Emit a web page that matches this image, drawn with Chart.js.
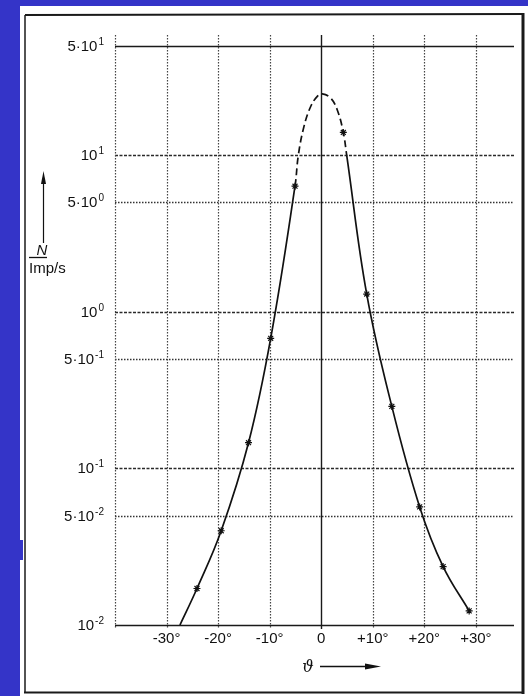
<!DOCTYPE html>
<html>
<head>
<meta charset="utf-8">
<script src="https://cdn.jsdelivr.net/npm/chart.js@4.4.1/dist/chart.umd.min.js"></script>
<style>
  html, body { margin: 0; padding: 0; background: #3434c8; }
  canvas { display: block; }
</style>
</head>
<body>
<canvas id="chart" width="528" height="696"></canvas>
<script>
// ---- data ----
const angleTicks = [-30, -20, -10, 0, 10, 20, 30];
const angleTickLabels = ['-30°', '-20°', '-10°', '0', '+10°', '+20°', '+30°'];
const gridAngles = [-40, -30, -20, -10, 0, 10, 20, 30];

const rateTicks = [0.01, 0.05, 0.1, 0.5, 1, 5, 10, 50];
const rateTickMantissa = ['', '5·', '', '5·', '', '5·', '', '5·'];
const rateTickExponent = ['-2', '-2', '-1', '-1', '0', '0', '1', '1'];

// solid left flank
const leftAngles = [-27.4, -24.1, -19.4, -14.1, -9.8];
const leftRates = [0.01, 0.0171, 0.040, 0.146, 0.678];
// dashed (extrapolated) peak
const peakAngles = [-5.08, -4.44, -3.34, -2.04, -0.76, 0.2, 1.84, 3.12, 4.29, 4.95];
const peakRates = [6.35, 10, 15.3, 20.5, 23.8, 24.7, 23.2, 19.5, 14, 10];
// solid right flank
const rightAngles = [8.83, 13.7, 19.1, 23.65, 28.7];
const rightRates = [1.30, 0.249, 0.0568, 0.0236, 0.0123];
// measured points
const markerAngles = [-24.1, -19.4, -14.1, -9.8, -5.08, 4.29, 8.83, 13.7, 19.1, 23.65, 28.7];
const markerRates = [0.0171, 0.040, 0.146, 0.678, 6.35, 14, 1.30, 0.249, 0.0568, 0.0236, 0.0123];

const pts = (xs, ys) => xs.map((x, i) => ({ x, y: ys[i] }));
const curvePts = [...pts(leftAngles, leftRates), ...pts(peakAngles, peakRates), ...pts(rightAngles, rightRates)];
const FONT = '"Liberation Sans", Arial, sans-serif';

// paper, frame, grid
const paperPlugin = {
    id: 'paper',
    beforeDraw(chart) {
        const ctx = chart.ctx;
        ctx.save();
        ctx.fillStyle = '#3434c8';
        ctx.fillRect(0, 0, 528, 696);
        ctx.fillStyle = '#ffffff';
        ctx.fillRect(20, 6, 508, 690);
        ctx.fillStyle = '#3434c8';
        ctx.fillRect(20, 540, 3, 20);
        ctx.strokeStyle = '#1a1a1a';
        ctx.lineWidth = 2;
        ctx.beginPath();
        ctx.moveTo(25, 15); ctx.lineTo(523, 14);
        ctx.moveTo(24, 692.5); ctx.lineTo(523, 692.5);
        ctx.stroke();
        ctx.lineWidth = 3;
        ctx.beginPath(); ctx.moveTo(523, 13); ctx.lineTo(523, 694); ctx.stroke();
        ctx.lineWidth = 1.5;
        ctx.beginPath(); ctx.moveTo(25, 15); ctx.lineTo(25, 692); ctx.stroke();
        ctx.restore();
    },
    beforeDatasetsDraw(chart) {
        const { ctx, chartArea, scales: { x, y } } = chart;
        ctx.save();
        // horizontal lines
        rateTicks.forEach((v, i) => {
            const py = Math.round(y.getPixelForValue(v)) + 0.5;
            if (v === 50 || v === 0.01) { ctx.setLineDash([]); ctx.lineWidth = 1.6; ctx.strokeStyle = '#1a1a1a'; }
            else if (rateTickMantissa[i] === '') { ctx.setLineDash([3, 1.5]); ctx.lineWidth = 1.3; ctx.strokeStyle = '#2a2a2a'; }
            else { ctx.setLineDash([1.5, 1.5]); ctx.lineWidth = 1.3; ctx.strokeStyle = '#333'; }
            ctx.beginPath();
            ctx.moveTo(chartArea.left, py);
            ctx.lineTo(chartArea.right, py);
            ctx.stroke();
        });
        // vertical lines
        gridAngles.forEach(a => {
            const px = Math.round(x.getPixelForValue(a)) + 0.5;
            if (a === 0) { ctx.setLineDash([]); ctx.lineWidth = 1.4; ctx.strokeStyle = '#1a1a1a'; }
            else { ctx.setLineDash([1.5, 1.5]); ctx.lineWidth = 1.2; ctx.strokeStyle = '#444'; }
            ctx.beginPath();
            ctx.moveTo(px, chartArea.top);
            ctx.lineTo(px, chartArea.bottom + 4);
            ctx.stroke();
        });
        ctx.restore();
    },
    afterDraw(chart) {
        const { ctx, scales: { y } } = chart;
        ctx.save();
        ctx.fillStyle = '#111';
        // y tick labels with raised exponents
        rateTicks.forEach((v, i) => {
            const py = y.getPixelForValue(v);
            ctx.font = '10px ' + FONT;
            ctx.textAlign = 'right';
            ctx.textBaseline = 'alphabetic';
            const expW = ctx.measureText(rateTickExponent[i]).width;
            ctx.fillText(rateTickExponent[i], 104, py - 1);
            ctx.font = '15px ' + FONT;
            ctx.fillText(rateTickMantissa[i] + '10', 104 - expW - 1, py + 5);
        });
        // y axis title
        ctx.strokeStyle = '#111';
        ctx.lineWidth = 1.2;
        ctx.beginPath(); ctx.moveTo(43.5, 180); ctx.lineTo(43.5, 243); ctx.stroke();
        ctx.beginPath(); ctx.moveTo(43.5, 171); ctx.lineTo(46, 184); ctx.lineTo(41, 184); ctx.closePath(); ctx.fill();
        ctx.font = 'italic 15px ' + FONT;
        ctx.textAlign = 'center';
        ctx.fillText('N', 42, 255);
        ctx.lineWidth = 1.3;
        ctx.beginPath(); ctx.moveTo(29, 257.5); ctx.lineTo(47, 257.5); ctx.stroke();
        ctx.font = '15px ' + FONT;
        ctx.textAlign = 'left';
        ctx.fillText('Imp/s', 29, 273);
        // x axis title
        ctx.font = 'italic 16px "DejaVu Serif", serif';
        ctx.textAlign = 'center';
        ctx.fillText('ϑ', 308, 672);
        ctx.lineWidth = 1.3;
        ctx.beginPath(); ctx.moveTo(320, 666.5); ctx.lineTo(368, 666.5); ctx.stroke();
        ctx.beginPath(); ctx.moveTo(381, 666.5); ctx.lineTo(365, 663.5); ctx.lineTo(365, 669.5); ctx.closePath(); ctx.fill();
        ctx.restore();
    }
};

const inPeak = c => c.p0.parsed.x >= peakAngles[0] && c.p1.parsed.x <= peakAngles[peakAngles.length - 1];

new Chart(document.getElementById('chart'), {
    type: 'scatter',
    data: {
        datasets: [
            {
                type: 'line', data: curvePts, showLine: true, pointRadius: 0,
                borderColor: '#111', borderWidth: 1.7, tension: 0.4, fill: false,
                segment: { borderDash: c => inPeak(c) ? [7, 4] : undefined }
            },
            {
                type: 'scatter', data: pts(markerAngles, markerRates), pointStyle: 'star', pointRadius: 3.5,
                borderColor: '#111', borderWidth: 1.2, backgroundColor: '#111'
            }
        ]
    },
    plugins: [paperPlugin],
    options: {
        responsive: false, animation: false, devicePixelRatio: 1,
        layout: { padding: { left: 25, right: 14, top: 35, bottom: 41 } },
        plugins: { legend: { display: false }, tooltip: { enabled: false } },
        scales: {
            x: {
                type: 'linear', min: -40, max: 37.4,
                grid: { display: false, drawTicks: false }, border: { display: false },
                afterBuildTicks: s => { s.ticks = angleTicks.map(v => ({ value: v })); },
                afterFit: s => { s.height = 30; },
                ticks: {
                    padding: 5, color: '#111', font: { family: FONT, size: 15 },
                    maxRotation: 0, autoSkip: false,
                    callback: v => angleTickLabels[angleTicks.indexOf(v)]
                }
            },
            y: {
                type: 'logarithmic', min: 0.01, max: 58.7,
                grid: { display: false, drawTicks: false }, border: { display: false },
                afterBuildTicks: s => { s.ticks = rateTicks.map(v => ({ value: v })); },
                afterFit: s => { s.width = 90; },
                ticks: { display: false }
            }
        }
    }
});
</script>
</body>
</html>
